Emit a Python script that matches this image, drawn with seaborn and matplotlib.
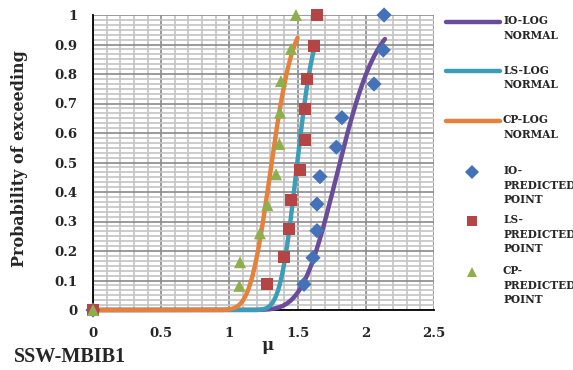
import math
import numpy as np
import pandas as pd
import matplotlib
matplotlib.use("Agg")
import matplotlib.pyplot as plt
from matplotlib.lines import Line2D
from matplotlib.ticker import MultipleLocator
import seaborn as sns

# ---- data ----
series = ["IO", "LS", "CP"]
median = [1.81, 1.498, 1.31]          # lognormal median (mu)
beta = [0.12, 0.066, 0.095]           # lognormal dispersion

io_x = [0, 1.547, 1.613, 1.642, 1.642, 1.664, 1.784, 1.825, 2.06, 2.128, 2.134]
io_y = [0, 0.087, 0.177, 0.269, 0.359, 0.452, 0.552, 0.652, 0.766, 0.881, 1.0]
ls_x = [0, 1.278, 1.40, 1.437, 1.449, 1.518, 1.554, 1.557, 1.569, 1.618, 1.645]
ls_y = [0, 0.087, 0.18, 0.276, 0.372, 0.475, 0.577, 0.681, 0.784, 0.894, 1.0]
cp_x = [0, 1.073, 1.078, 1.224, 1.278, 1.342, 1.366, 1.371, 1.378, 1.452, 1.488]
cp_y = [0, 0.082, 0.162, 0.26, 0.356, 0.46, 0.563, 0.669, 0.776, 0.885, 1.0]
curve_end = [2.14, 1.625, 1.50]

xticks = [0, 0.5, 1, 1.5, 2, 2.5]
yticks = [0, 0.1, 0.2, 0.3, 0.4, 0.5, 0.6, 0.7, 0.8, 0.9, 1]

line_colors = {"IO": "#6B4C9A", "LS": "#3C9DB8", "CP": "#E5813A"}
pt_colors = {"IO": "#4472B8", "LS": "#B54444", "CP": "#8DAF4C"}
markers = {"IO": "D", "LS": "s", "CP": "^"}

# ---- build curves (lognormal CDF) ----
pts = {"IO": (io_x, io_y), "LS": (ls_x, ls_y), "CP": (cp_x, cp_y)}
rows = []
for s, m, b, xe in zip(series, median, beta, curve_end):
    for x in np.linspace(0.0, xe, 400):
        p = 0.0 if x <= 0 else 0.5 * (1 + math.erf(math.log(x / m) / (b * math.sqrt(2))))
        rows.append((s, x, p))
curves = pd.DataFrame(rows, columns=["series", "mu", "p"])
points = pd.concat([pd.DataFrame({"series": s, "mu": pts[s][0], "p": pts[s][1]}) for s in series])

sns.set_theme(style="white")
plt.rcParams["font.family"] = ["DejaVu Serif"]

fig = plt.figure(figsize=(5.73, 3.70), dpi=100)
ax = fig.add_axes([93 / 573, 1 - 310 / 370, (434 - 93) / 573, (310 - 15) / 370])

ax.set_xlim(0, 2.5)
ax.set_ylim(0, 1)
ax.xaxis.set_major_locator(MultipleLocator(0.5))
ax.xaxis.set_minor_locator(MultipleLocator(0.1))
ax.yaxis.set_major_locator(MultipleLocator(0.1))
ax.yaxis.set_minor_locator(MultipleLocator(0.1 / 6))
ax.grid(which="minor", color="#c4c4c4", linewidth=1.2, zorder=0)
ax.grid(which="major", color="#8a8a8a", linewidth=1.2, zorder=0)
ax.set_axisbelow(True)

sns.lineplot(data=curves, x="mu", y="p", hue="series", palette=line_colors,
             linewidth=3.2, legend=False, ax=ax, clip_on=False, zorder=3)
for s in series:
    sub = points[points["series"] == s]
    sns.scatterplot(data=sub, x="mu", y="p", color=pt_colors[s], marker=markers[s],
                    s=75 if s != "IO" else 60, edgecolor="none", legend=False, ax=ax,
                    clip_on=False, zorder=4)

for sp in ["top", "right"]:
    ax.spines[sp].set_visible(False)
for sp in ["left", "bottom"]:
    ax.spines[sp].set_color("black")
    ax.spines[sp].set_linewidth(1.3)

ax.set_xticks(xticks)
ax.set_yticks(yticks)
ax.set_xticklabels([f"{t:g}" for t in xticks], fontweight="bold", fontsize=9.5)
ax.set_yticklabels([f"{t:g}" for t in yticks], fontweight="bold", fontsize=9.5)
ax.tick_params(axis="both", which="major", direction="out", length=5, width=1.3, color="black", pad=6)
ax.tick_params(axis="x", which="major", length=4, pad=8)
ax.tick_params(which="minor", length=0)
ax.set_xlabel("μ", fontweight="bold", fontsize=12)
ax.xaxis.set_label_coords((268 - 93) / (434 - 93), -(345 - 310) / (310 - 15))
ax.xaxis.label.set_va("center")
ax.set_ylabel("Probability of exceeding", fontweight="bold", fontsize=11.5)
ax.yaxis.set_label_coords(-(93 - 20) / (434 - 93), (310 - 159) / (310 - 15))
ax.yaxis.label.set_va("center")

fig.text(14 / 573, 1 - 357 / 370, "SSW-MBIB1", fontweight="bold", fontsize=14.5,
         va="center", ha="left", family="Liberation Serif")

# ---- legend (drawn manually) ----
def fy(py):
    return 1 - py / 370

legend_entries = [
    ("line", "IO", 21.7, "IO-LOG\nNORMAL"),
    ("line", "LS", 71.0, "LS-LOG\nNORMAL"),
    ("line", "CP", 121.0, "CP-LOG\nNORMAL"),
    ("pt", "IO", 171.7, "IO-\nPREDICTED\nPOINT"),
    ("pt", "LS", 220.7, "LS-\nPREDICTED\nPOINT"),
    ("pt", "CP", 271.7, "CP-\nPREDICTED\nPOINT"),
]
for kind, s, py, label in legend_entries:
    if kind == "line":
        fig.add_artist(Line2D([446 / 573, 500 / 573], [fy(py), fy(py)], color=line_colors[s],
                              linewidth=3.2, transform=fig.transFigure))
    else:
        fig.add_artist(Line2D([472 / 573], [fy(py)], color=pt_colors[s], marker=markers[s],
                              markersize=7, markeredgewidth=0, linestyle="none",
                              transform=fig.transFigure))
    fig.text(503 / 573, fy(py) + 6.5 / 370, label, fontsize=7.6, fontweight="bold",
             va="top", ha="left", linespacing=1.4, family="DejaVu Serif")

fig.savefig("out.png", dpi=100)
